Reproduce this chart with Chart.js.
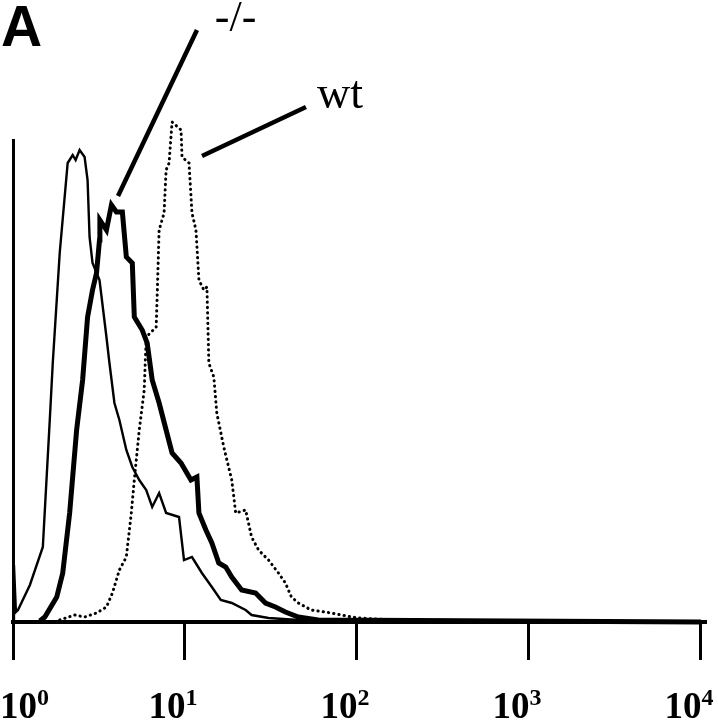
<!DOCTYPE html>
<html>
<head>
<meta charset="utf-8">
<script src="https://cdn.jsdelivr.net/npm/chart.js@4.4.1/dist/chart.umd.min.js"></script>
<style>
  html, body { margin: 0; padding: 0; background: #fff; }
  #wrap { width: 718px; height: 720px; position: relative; }
</style>
</head>
<body>
<div id="wrap"><canvas id="histo" width="718" height="720"></canvas></div>
<script>
// fluorescence (log scale) and cell counts
const ctrlX = [1.00, 1.013, 1.04, 1.069, 1.254, 1.491, 1.636, 1.703, 1.869, 2.079, 2.223, 2.313, 2.440, 2.608, 2.714, 2.787, 2.900, 3.184, 3.494, 3.637, 3.888, 4.155, 4.560, 4.939, 5.422, 5.953, 6.448, 7.074, 7.767, 9.233, 9.868, 10.98, 12.54, 14.33, 16.15, 18.70, 22.52, 24.39, 30.59, 45.6, 10000];
const ctrlY = [2, 57, 10, 12, 37, 75, 202, 259, 369, 459, 467, 462, 472, 465, 442, 385, 359, 342, 285, 259, 219, 202, 172, 155, 142, 132, 115, 129, 109, 105, 62, 65, 49, 35, 22, 19, 12, 7, 4, 2, 0];

const koX = [1.432, 1.531, 1.796, 1.946, 2.135, 2.344, 2.540, 2.714, 2.900, 3.059, 3.184, 3.20, 3.494, 3.736, 3.993, 4.324, 4.560, 4.939, 5.074, 5.641, 6.030, 6.448, 7.074, 7.767, 8.413, 9.482, 10.83, 11.73, 12.05, 13.23, 14.33, 15.72, 17.26, 18.70, 21.36, 25.73, 29.39, 33.57, 38.36, 45.6, 59.5, 10000];
const koY = [1, 5, 25, 49, 109, 192, 242, 305, 332, 349, 382, 402, 392, 417, 410, 410, 365, 359, 305, 292, 279, 242, 219, 192, 169, 159, 142, 145, 109, 92, 79, 59, 55, 45, 32, 29, 19, 15, 10, 5, 2, 0];

const wtX = [1.869, 2.282, 2.608, 3.059, 3.494, 3.785, 4.155, 4.560, 4.874, 5.074, 5.422, 5.794, 5.953, 6.800, 6.891, 7.074, 7.560, 7.767, 8.082, 8.413, 9.482, 9.609, 10.55, 10.98, 11.58, 12.05, 12.88, 13.41, 13.76, 14.71, 15.31, 16.81, 18.70, 19.72, 22.52, 24.39, 26.78, 30.59, 34.95, 38.36, 41.55, 45.6, 54.2, 70.7, 101, 172.6, 10000];
const wtY = [2, 7, 5, 9, 15, 29, 52, 65, 109, 142, 192, 232, 285, 295, 325, 392, 409, 452, 459, 500, 492, 465, 459, 409, 392, 342, 332, 335, 259, 245, 209, 175, 142, 109, 112, 85, 72, 62, 49, 39, 25, 19, 12, 9, 4, 2, 0];

const decades = [1, 10, 100, 1000, 10000];
const exponents = ['0', '1', '2', '3', '4'];

// callout labels with their pointer lines, in data coordinates
const callouts = [
  { text: '-/-', at: [14.9, 591], font: '44px "Liberation Serif"', from: [11.74, 592], to: [4.08, 426] },
  { text: 'wt', at: [58.5, 514], font: '46px "Liberation Serif"', from: [50.5, 515], to: [12.56, 466] }
];

const pts = (xs, ys) => xs.map((x, i) => ({ x, y: ys[i] }));

const decorations = {
  id: 'decorations',
  afterDraw(chart) {
    const { ctx, scales: { x, y } } = chart;
    ctx.save();
    ctx.fillStyle = '#000';
    ctx.strokeStyle = '#000';

    // panel letter
    ctx.font = 'bold 57px "Liberation Sans"';
    ctx.textBaseline = 'alphabetic';
    ctx.fillText('A', 1, 46);

    // pointer lines + labels
    callouts.forEach(c => {
      ctx.lineWidth = 4.5;
      ctx.lineCap = 'butt';
      ctx.beginPath();
      ctx.moveTo(x.getPixelForValue(c.from[0]), y.getPixelForValue(c.from[1]));
      ctx.lineTo(x.getPixelForValue(c.to[0]), y.getPixelForValue(c.to[1]));
      ctx.stroke();
      ctx.font = c.font;
      ctx.fillText(c.text, x.getPixelForValue(c.at[0]), y.getPixelForValue(c.at[1]));
    });

    // decade labels 10^n under the ticks
    const base = 'bold 37px "Liberation Serif"';
    const sup = 'bold 24px "Liberation Serif"';
    x.ticks.forEach((t, i) => {
      const px = x.getPixelForValue(t.value);
      ctx.font = base;
      const w1 = ctx.measureText('10').width;
      ctx.font = sup;
      const w2 = ctx.measureText(exponents[i]).width;
      const w = w1 + w2;
      let left = px - 12 - w / 2;
      left = Math.max(0, Math.min(chart.width - w, left));
      ctx.font = base;
      ctx.fillText('10', left, 718);
      ctx.font = sup;
      ctx.fillText(exponents[i], left + w1, 705);
    });
    ctx.restore();
  }
};

new Chart(document.getElementById('histo'), {
  type: 'line',
  data: {
    datasets: [
      { label: 'control', data: pts(ctrlX, ctrlY), borderColor: '#000', borderWidth: 2.4, pointRadius: 0, tension: 0, clip: false },
      { label: '-/-', data: pts(koX, koY), borderColor: '#000', borderWidth: 5, pointRadius: 0, tension: 0, clip: false },
      { label: 'wt', data: pts(wtX, wtY), borderColor: '#000', borderWidth: 3, borderDash: [0.3, 5], borderCapStyle: 'round', pointRadius: 0, tension: 0, clip: false }
    ]
  },
  options: {
    responsive: false,
    animation: false,
    layout: { padding: { left: 13, top: 140, right: 12, bottom: 60 } },
    plugins: { legend: { display: false }, tooltip: { enabled: false } },
    scales: {
      x: {
        type: 'logarithmic',
        min: 1, max: 10700,
        afterBuildTicks: s => { s.ticks = decades.map(v => ({ value: v })); },
        ticks: { display: false },
        grid: { drawOnChartArea: false, drawTicks: true, tickLength: 38, tickWidth: 3, tickColor: '#000' },
        border: { display: true, color: '#000', width: 4 }
      },
      y: {
        min: 0, max: 482,
        ticks: { display: false },
        grid: { display: false, drawTicks: false },
        border: { display: true, color: '#000', width: 3 }
      }
    }
  },
  plugins: [decorations]
});
</script>
</body>
</html>
